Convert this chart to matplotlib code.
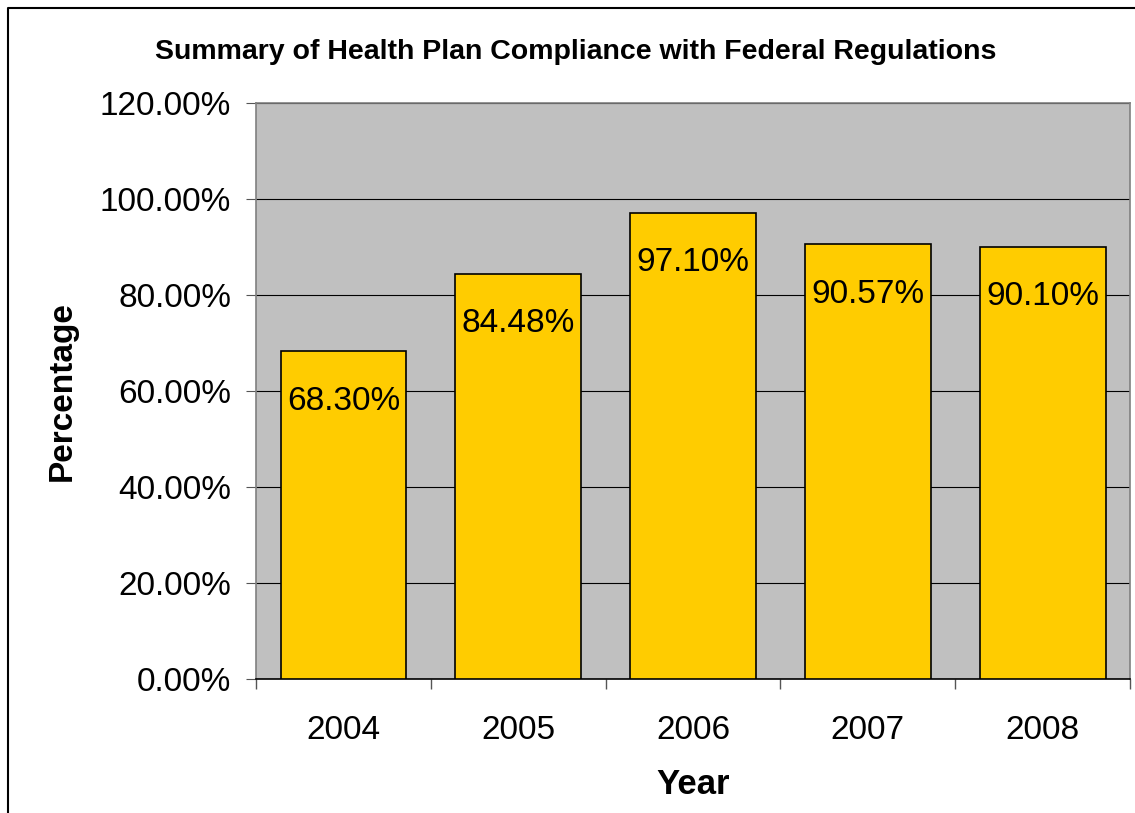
import numpy as np
import matplotlib.pyplot as plt
from matplotlib.lines import Line2D

plt.rcParams["font.family"] = ["Liberation Sans", "DejaVu Sans"]

years = ["2004", "2005", "2006", "2007", "2008"]
compliance = [68.30, 84.48, 97.10, 90.57, 90.10]
y_ticks = [0, 20, 40, 60, 80, 100, 120]

fig = plt.figure(figsize=(11.35, 8.13), dpi=100)
ax = fig.add_axes([0.2256, 0.1648, 0.77, 0.7085])
ax.set_facecolor("#C0C0C0")

x = np.arange(len(years))
bars = ax.bar(x, compliance, width=0.72, color="#FFCC00",
              edgecolor="black", linewidth=1.2, zorder=3)

for xi, v in zip(x, compliance):
    ax.annotate(f"{v:.2f}%", (xi, v), xytext=(0, -36),
                textcoords="offset points", ha="center", va="center",
                fontsize=24, zorder=4)

ax.set_xlim(-0.5, len(years) - 0.5)
ax.set_ylim(0, 120)
ax.set_yticks(y_ticks, [f"{t:.2f}%" for t in y_ticks])
ax.grid(axis="y", color="black", linewidth=0.8, zorder=1)

ax.set_xticks(x, years)
ax.set_xticks(np.arange(len(years) + 1) - 0.5, minor=True)
ax.tick_params(axis="x", which="major", length=0, pad=26, labelsize=24)
ax.tick_params(axis="x", which="minor", length=7, direction="out",
               color="#555555", width=1)
ax.tick_params(axis="y", length=7, direction="out", color="#555555",
               labelsize=24, pad=11)

for side in ["top", "right", "left", "bottom"]:
    ax.spines[side].set_color("#808080")
    ax.spines[side].set_linewidth(1.2)
ax.spines["bottom"].set_color("black")

ax.set_xlabel("Year", fontsize=25, fontweight="bold", labelpad=16)
ax.set_ylabel("Percentage", fontsize=24, fontweight="bold", labelpad=16)
fig.text(0.5075, 0.936, "Summary of Health Plan Compliance with Federal Regulations",
         ha="center", va="center", fontsize=20.5, fontweight="bold")

# outer chart frame (left and top edges)
fx = 8 / 1135
fy = 1 - 8 / 813
fig.add_artist(Line2D([fx, fx, 1.0], [0.0, fy, fy], color="black",
                      linewidth=1.5, transform=fig.transFigure))

fig.savefig("out.png", dpi=100)
